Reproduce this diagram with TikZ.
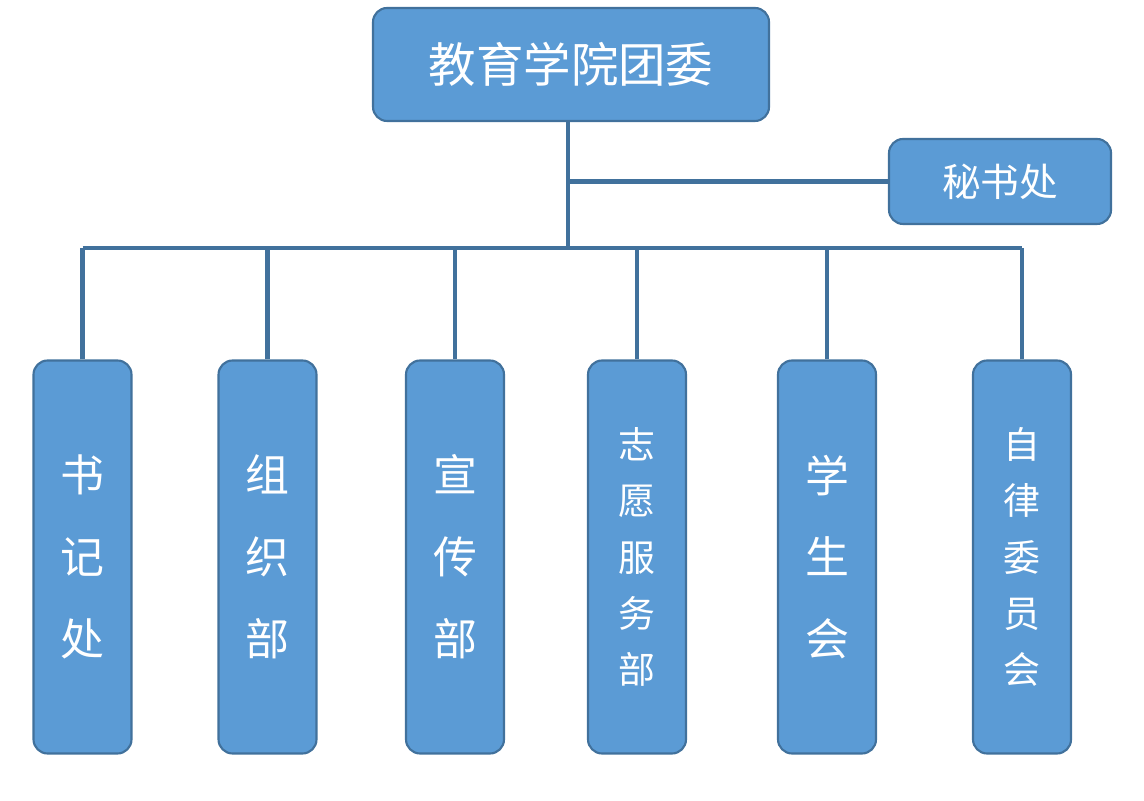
\documentclass[tikz,border=0pt]{standalone}
\usepackage{fontspec}
\newfontfamily\cjk{Noto Sans CJK SC}
\usepackage{tikz}
\usepackage{xcolor}
\usetikzlibrary{positioning, calc}
\definecolor{boxblue}{HTML}{5B9BD5}
\definecolor{edgeblue}{HTML}{41719C}

\begin{document}
\begin{tikzpicture}[
    unit/.style={draw=edgeblue, line width=0.6pt, fill=boxblue, text=white,
      rounded corners=4pt, inner sep=0pt, align=center},
    dept/.style={unit, minimum width=0.98cm, minimum height=3.93cm,
      font=\cjk\fontsize{12.5}{23.3}\selectfont},
    longdept/.style={dept, font=\cjk\fontsize{10.5}{16}\selectfont},
    link/.style={draw=edgeblue, line width=1.15pt}
  ]
  \useasboundingbox (0,0) rectangle (11.44,8);

  % top and side boxes
  \node[unit, minimum width=3.96cm, minimum height=1.13cm,
    font=\cjk\fontsize{13.5}{16}\selectfont] (tw) at (5.71,7.355) {教育学院团委};
  \node[unit, minimum width=2.22cm, minimum height=0.85cm,
    font=\cjk\fontsize{11}{14}\selectfont] (mishu) at (10.00,6.185) {秘书处};

  % departments
  \node[dept] (b1) at (0.825,2.43) {书\\记\\处};
  \node[dept] (b2) at (2.675,2.43) {组\\织\\部};
  \node[dept] (b3) at (4.55,2.43) {宣\\传\\部};
  \node[longdept] (b4) at (6.37,2.43) {志\\愿\\服\\务\\部};
  \node[dept] (b5) at (8.27,2.43) {学\\生\\会};
  \node[longdept] (b6) at (10.22,2.43) {自\\律\\委\\员\\会};

  \coordinate (bus) at (5.68,5.52);

  \draw[link] (tw.south -| bus) -- (bus);
  \draw[link] (mishu.west -| bus) -- (mishu.west);
  \draw[link] (b1.north |- bus) -- (b6.north |- bus);
  \foreach \i in {1,...,6}
    \draw[link] (b\i.north) -- (b\i.north |- bus);
\end{tikzpicture}
\end{document}
